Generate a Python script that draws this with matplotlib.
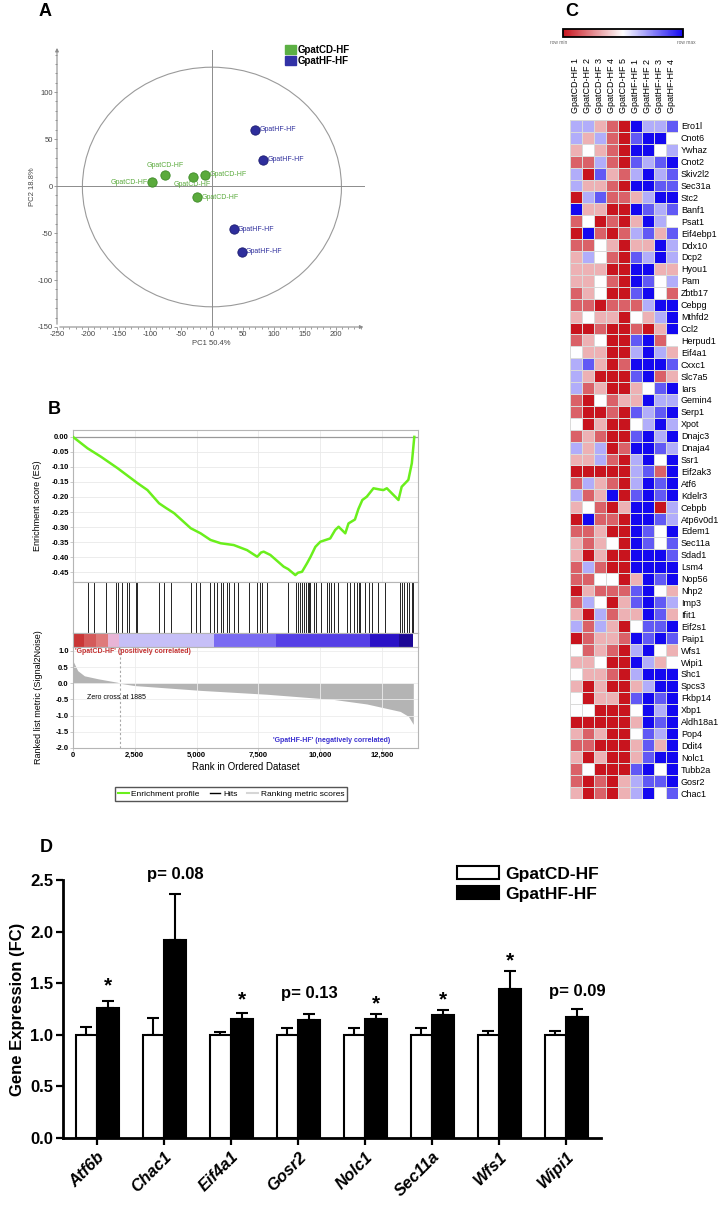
import numpy as np
import matplotlib
matplotlib.use("Agg")
import matplotlib.pyplot as plt
from matplotlib.patches import Ellipse, Patch
from matplotlib.lines import Line2D
from matplotlib.colors import LinearSegmentedColormap
from matplotlib.ticker import MultipleLocator, FormatStrFormatter
import matplotlib.colorbar as mcolorbar

plt.rcParams['font.family'] = ['Liberation Sans', 'DejaVu Sans']
plt.rcParams['axes.unicode_minus'] = False

# ---------------- data ----------------
# A: PCA scores
pca_cd_x = [-96, -75, -30, -11, -24]
pca_cd_y = [4, 12, 10, 12, -12]
pca_hf_x = [70, 83, 35, 48]
pca_hf_y = [60, 28, -46, -70]

# B: GSEA enrichment plot
es_rank = [0, 590, 1130, 1800, 2610, 3010, 3480, 3750, 4090, 4760, 5160, 5560, 5970,
           6500, 7040, 7450, 7600, 7710, 7980, 8520, 8700, 8990, 9100, 9260, 9460,
           9600, 9800, 10000, 10400, 10600, 10740, 11010, 11140, 11400, 11540, 11700,
           11880, 12150, 12400, 12550, 12690, 13160, 13290, 13560, 13700, 13800]
es_value = [0.0, -0.038, -0.066, -0.104, -0.154, -0.177, -0.221, -0.236, -0.254, -0.304,
            -0.321, -0.343, -0.354, -0.360, -0.377, -0.399, -0.385, -0.382, -0.393,
            -0.432, -0.440, -0.460, -0.452, -0.449, -0.421, -0.400, -0.366, -0.349,
            -0.338, -0.310, -0.299, -0.321, -0.288, -0.275, -0.240, -0.210, -0.199,
            -0.171, -0.175, -0.177, -0.171, -0.210, -0.166, -0.143, -0.088, 0.0]
hit_ranks = [618, 833, 1331, 1734, 1828, 1976, 2177, 2272, 2540, 2581, 3481, 3683, 3979,
             4785, 4960, 5134, 5537, 5699, 5806, 5968, 6075, 6210, 6304, 6505, 6667,
             7110, 7446, 7581, 7648, 7849, 8683, 9032, 9099, 9167, 9261, 9355, 9435,
             9489, 9530, 9597, 9731, 9839, 10027, 10269, 10336, 10444, 10538, 10699,
             11076, 11210, 11344, 11479, 11546, 11613, 11815, 11949, 12083, 12352,
             12621, 13226, 13293, 13387, 13495, 13602, 13696, 13763]
metric_rank = [0, 190, 460, 1000, 1800, 1885, 2470, 5160, 7850, 10540, 11880, 13230, 13560, 13760]
metric_value = [0.69, 0.39, 0.23, 0.14, 0.03, 0.0, -0.07, -0.22, -0.34, -0.50, -0.64, -0.87, -1.02, -1.27]
band_edges = [0, 460, 930, 1400, 1870, 5700, 8190, 12020, 13200, 13760]
band_colors = ['#c93636', '#d45a5a', '#df7a7a', '#e8b4d6', '#c6bff7', '#7a6bf2',
               '#5640e6', '#2a12c6', '#1c0896']

# C: heatmap (levels: -3 row min ... 3 row max)
hm_samples = ['GpatCD-HF 1', 'GpatCD-HF 2', 'GpatCD-HF 3', 'GpatCD-HF 4', 'GpatCD-HF 5',
              'GpatHF-HF 1', 'GpatHF-HF 2', 'GpatHF-HF 3', 'GpatHF-HF 4']
hm_genes = ['Ero1l', 'Cnot6', 'Ywhaz', 'Cnot2', 'Skiv2l2', 'Sec31a', 'Stc2', 'Banf1', 'Psat1',
            'Eif4ebp1', 'Ddx10', 'Dcp2', 'Hyou1', 'Pam', 'Zbtb17', 'Cebpg', 'Mthfd2', 'Ccl2',
            'Herpud1', 'Eif4a1', 'Cxxc1', 'Slc7a5', 'Iars', 'Gemin4', 'Serp1', 'Xpot',
            'Dnajc3', 'Dnaja4', 'Ssr1', 'Eif2ak3', 'Atf6', 'Kdelr3', 'Cebpb', 'Atp6v0d1',
            'Edem1', 'Sec11a', 'Sdad1', 'Lsm4', 'Nop56', 'Nhp2', 'Imp3', 'Ifit1', 'Eif2s1',
            'Paip1', 'Wfs1', 'Wipi1', 'Shc1', 'Spcs3', 'Fkbp14', 'Xbp1', 'Aldh18a1', 'Pop4',
            'Ddit4', 'Nolc1', 'Tubb2a', 'Gosr2', 'Chac1']
hm_values = [
    [1, 1, -1, -2, -3, 3, 1, 1, 2],
    [1, -1, 1, -2, -3, 2, 3, 3, 0],
    [-1, 0, -1, -2, -3, 3, 3, 0, 1],
    [-2, -2, 1, -2, -3, 2, 1, 2, 3],
    [1, -3, 2, -1, -2, 1, 3, 1, 2],
    [1, -1, -1, -2, -3, 3, 3, 2, 2],
    [-3, 1, 2, -2, -2, -1, 1, 3, 3],
    [3, -1, -1, -3, -3, 3, 2, 1, 2],
    [-2, 0, -3, -2, -3, -1, 3, 1, 0],
    [-3, 3, -2, -3, -2, 1, 2, -1, 2],
    [-2, -2, 0, -1, -3, -1, -1, 3, 1],
    [-1, 1, 0, -2, -3, 2, 1, 3, 1],
    [-1, -1, -1, -3, -3, 3, 3, -1, -1],
    [-1, -1, 0, -2, -3, 3, 2, 0, 1],
    [-2, -1, 0, -3, -3, 2, 3, 0, -2],
    [-2, -2, -3, -2, -2, -2, 1, 3, 3],
    [-1, 0, -1, -1, -3, 0, -1, 1, 3],
    [-3, -3, -2, -3, -3, -2, -3, -1, 3],
    [-2, -1, 0, -3, -3, 2, 3, -2, 0],
    [0, -1, -1, -3, -3, 1, 3, 1, -1],
    [1, 2, -1, -3, -2, 3, 3, 3, 2],
    [1, -1, -3, -3, -3, 2, 3, -2, -1],
    [1, -2, -1, -3, -3, -1, 0, 2, 3],
    [-2, -3, 0, -2, -1, -1, 3, 1, 1],
    [-2, -3, -3, -2, -3, 2, 1, 2, 3],
    [0, -3, -1, -3, -3, 0, 1, 3, 1],
    [-2, -1, -2, -3, -3, 2, 3, 1, 3],
    [1, -1, 1, -3, -2, 3, 3, 2, 1],
    [-1, -1, 1, -2, -3, 1, 3, 0, 3],
    [-3, -3, -3, -3, -3, 1, 2, -2, 3],
    [-2, 1, -1, -2, -3, 1, 3, 2, 3],
    [1, -2, -1, 3, -3, 2, 3, 2, 3],
    [-1, 0, -2, -3, -1, 3, 3, -3, 1],
    [-3, 3, -2, -2, -3, 3, 3, 2, 1],
    [-2, -2, -1, -3, -3, 3, 2, 0, 3],
    [-1, -2, -1, 0, -3, 3, 2, 0, 2],
    [-1, -3, -1, -3, -3, 3, 3, 3, 2],
    [-2, 1, -2, -3, -3, 3, 3, 3, 3],
    [-2, -2, 0, 0, -3, -1, 3, 2, 3],
    [-3, -1, -2, -2, -2, 2, 3, 0, -1],
    [-2, 1, 0, -3, -1, 2, 3, 2, 1],
    [-1, -3, 1, -2, -1, -1, 3, 2, -1],
    [1, -2, 1, -1, -3, 0, 2, 2, 3],
    [-3, -2, -1, -1, -2, 3, 2, 3, 2],
    [0, -2, -1, -2, -3, 1, 3, 0, -1],
    [-1, -1, 0, -3, -3, 3, 1, -1, 0],
    [0, -1, -1, -2, -3, 1, 3, 3, 3],
    [-1, -3, -1, -3, -3, -1, 1, 3, 3],
    [0, -3, -1, -1, -3, 2, 3, 2, 3],
    [0, 0, -3, -3, -3, 0, 3, 1, 3],
    [-3, -3, -3, -3, -3, -1, 3, 2, 3],
    [-1, -2, -1, -3, -3, 0, 2, 1, 3],
    [-2, -2, -3, -3, -3, -1, 2, -1, 3],
    [-1, -3, -1, -3, -3, -1, 2, 3, 3],
    [-2, 0, -3, -3, -3, 2, 3, 0, 3],
    [-2, -3, -2, -3, -1, 1, 2, 2, 3],
    [-1, -3, -2, -3, -1, 1, 3, 0, 2],
]

# D: qPCR fold change
d_genes = ['Atf6b', 'Chac1', 'Eif4a1', 'Gosr2', 'Nolc1', 'Sec11a', 'Wfs1', 'Wipi1']
cd_mean = [1.0, 1.0, 1.0, 1.0, 1.0, 1.0, 1.0, 1.0]
cd_err = [0.08, 0.16, 0.03, 0.07, 0.07, 0.07, 0.04, 0.04]
hf_mean = [1.26, 1.92, 1.15, 1.14, 1.15, 1.19, 1.44, 1.17]
hf_err = [0.07, 0.44, 0.06, 0.06, 0.05, 0.05, 0.18, 0.08]
sig_text = ['*', 'p= 0.08', '*', 'p= 0.13', '*', '*', '*', 'p= 0.09']
sig_y = [1.47, 2.55, 1.34, 1.40, 1.30, 1.34, 1.72, 1.42]

# ---------------- figure ----------------
W, H = 728, 1205


def box(l, t, r, b):
    return [l / W, 1 - b / H, (r - l) / W, (b - t) / H]


fig = plt.figure(figsize=(W / 100, H / 100), dpi=100)

for letter, (px, py) in zip('ABCD', [(45, 12), (54, 410), (572, 12), (46, 848)]):
    fig.text(px / W, 1 - py / H, letter, fontsize=13, fontweight='bold', ha='center', va='center')

# ---------- A: PCA ----------
green = '#5aaa3c'
blue = '#2e2e9c'
grey = '#8c8c8c'
axA = fig.add_axes(box(57, 47, 365, 327))
axA.set_xlim(-250, 247)
axA.set_ylim(-150, 148)
for s in axA.spines.values():
    s.set_visible(False)
arrow = dict(arrowstyle='-|>', color=grey, lw=0.8, mutation_scale=5)
axA.annotate('', xy=(-250, 150), xytext=(-250, -150), arrowprops=arrow, annotation_clip=False)
axA.annotate('', xy=(249, -150), xytext=(-250, -150), arrowprops=arrow, annotation_clip=False)
axA.plot([0, 0], [-150, 145], color=grey, lw=0.7)
axA.plot([-250, 245], [0, 0], color=grey, lw=0.7)
axA.add_patch(Ellipse((0, -1), 418, 255, fill=False, edgecolor='#9a9a9a', lw=0.8))
axA.set_xticks(np.arange(-250, 201, 50))
axA.set_yticks(np.arange(-150, 101, 50))
axA.xaxis.set_minor_locator(MultipleLocator(10))
axA.yaxis.set_minor_locator(MultipleLocator(10))
axA.tick_params(which='both', labelsize=5.5, labelcolor='#444', color=grey, length=2, width=0.6, pad=1)
axA.tick_params(which='minor', length=1.2)
axA.set_xlabel('PC1 50.4%', fontsize=5.5, color='#444', labelpad=1)
axA.set_ylabel('PC2 18.8%', fontsize=5.5, color='#444', labelpad=1)
axA.scatter(pca_cd_x, pca_cd_y, s=45, color=green, edgecolor='#3d8a28', lw=0.6, zorder=3)
axA.scatter(pca_hf_x, pca_hf_y, s=45, color=blue, edgecolor='#1c1c70', lw=0.6, zorder=3)
cd_lab = [(-8, 0, 'right', 'center'), (0, 6, 'center', 'bottom'), (-2, -5, 'center', 'top'),
          (7, 0, 'left', 'center'), (7, 0, 'left', 'center')]
for x, y, (dx, dy, ha, va) in zip(pca_cd_x, pca_cd_y, cd_lab):
    axA.text(x + dx, y + dy, 'GpatCD-HF', fontsize=5, color=green, ha=ha, va=va)
for x, y in zip(pca_hf_x, pca_hf_y):
    axA.text(x + 7, y, 'GpatHF-HF', fontsize=5, color=blue, ha='left', va='center')
axA.legend(handles=[Patch(color='#5cb044'), Patch(color='#3232a6')], labels=['GpatCD-HF', 'GpatHF-HF'],
           loc='upper left', bbox_to_anchor=(285 / W, 1 - 45 / H), bbox_transform=fig.transFigure,
           frameon=False, handlelength=1.1, handleheight=1.1, handletextpad=0.2, labelspacing=0.1,
           borderpad=0, borderaxespad=0, prop=dict(weight='bold', size=7))

# ---------- B: GSEA ----------
frame = '#b5b5b5'
xmax = 13950
axES = fig.add_axes(box(73, 430, 418, 582))
axES.plot(es_rank, es_value, color='#6aef1c', lw=1.8, zorder=3)
axES.axhline(0, color='#999999', lw=0.9)
axES.set_xlim(0, xmax)
axES.set_ylim(-0.483, 0.023)
axES.set_yticks(np.linspace(-0.45, 0, 10))
axES.yaxis.set_major_formatter(FormatStrFormatter('%.2f'))
axES.set_xticks(np.arange(0, 12501, 2500))
axES.tick_params(axis='x', length=0, labelbottom=False)
axES.tick_params(axis='y', labelsize=5.5, length=2, width=0.5, color=frame, pad=1)
for lab in axES.get_yticklabels():
    lab.set_fontweight('bold')
axES.grid(color='#e9e9e9', lw=0.6)
for s in axES.spines.values():
    s.set_color(frame)

axHit = fig.add_axes(box(73, 582, 418, 633))
axHit.vlines(hit_ranks, 0, 1, color='black', lw=0.6)
axHit.set_xlim(0, xmax)
axHit.set_ylim(0, 1)
axHit.set_xticks([])
axHit.set_yticks([])
for s in axHit.spines.values():
    s.set_color(frame)

axBand = fig.add_axes(box(73, 633, 418, 647))
for i, c in enumerate(band_colors):
    axBand.axvspan(band_edges[i], band_edges[i + 1], color=c, lw=0)
axBand.set_xlim(0, xmax)
axBand.set_xticks([])
axBand.set_yticks([])
for s in axBand.spines.values():
    s.set_color(frame)

axM = fig.add_axes(box(73, 647, 418, 748))
axM.fill_between(metric_rank, metric_value, 0, color='#b4b4b4', lw=0)
axM.axvline(1885, color='#a8a8a8', lw=0.8, ls=(0, (2, 2)))
axM.set_xlim(0, xmax)
axM.set_ylim(-2.0, 1.12)
axM.set_yticks(np.linspace(-2.0, 1.0, 7))
axM.yaxis.set_major_formatter(FormatStrFormatter('%.1f'))
axM.set_xticks(np.arange(0, 12501, 2500))
axM.set_xticklabels(['0', '2,500', '5,000', '7,500', '10,000', '12,500'])
axM.tick_params(labelsize=5.5, length=2, width=0.5, color=frame, pad=1)
for lab in axM.get_yticklabels() + axM.get_xticklabels():
    lab.set_fontweight('bold')
axM.grid(color='#ececec', lw=0.6)
for s in axM.spines.values():
    s.set_color(frame)
axM.text(80, 0.97, "'GpatCD-HF' (positively correlated)", fontsize=5, color='#c43030',
         fontweight='bold', va='center')
axM.text(560, -0.45, 'Zero cross at 1885', fontsize=5, va='center')
axM.text(12830, -1.76, "'GpatHF-HF' (negatively correlated)", fontsize=5, color='#3a30d0',
         fontweight='bold', ha='right', va='center')
axM.set_xlabel('Rank in Ordered Dataset', fontsize=7, labelpad=2)
fig.text(37 / W, 1 - 506 / H, 'Enrichment score (ES)', rotation=90, fontsize=6.5,
         ha='center', va='center')
fig.text(39 / W, 1 - 697 / H, 'Ranked list metric (Signal2Noise)', rotation=90, fontsize=6.5,
         ha='center', va='center')
fig.legend(handles=[Line2D([], [], color='#6aef1c', lw=1.5), Line2D([], [], color='black', lw=1),
                    Line2D([], [], color='#d6d6d6', lw=1.5)],
           labels=['Enrichment profile', 'Hits', 'Ranking metric scores'],
           loc='center', bbox_to_anchor=(231 / W, 1 - 794 / H), ncol=3, fontsize=6,
           frameon=True, fancybox=False, edgecolor='#555555', framealpha=1,
           handlelength=1.3, handletextpad=0.3, columnspacing=1.2, borderpad=0.35)

# ---------- C: heatmap ----------
hm_cmap = LinearSegmentedColormap.from_list('rowscale', ['#c8141e', '#ffffff', '#1408f0'])
axCb = fig.add_axes(box(563, 29, 683, 37))
cb = mcolorbar.ColorbarBase(axCb, cmap=hm_cmap, orientation='horizontal')
cb.set_ticks([])
cb.outline.set_linewidth(1.3)
fig.text(550 / W, 1 - 42 / H, 'row min', fontsize=3.5, color='#666666', va='center')
fig.text(696 / W, 1 - 42 / H, 'row max', fontsize=3.5, color='#666666', va='center', ha='right')

axHm = fig.add_axes(box(570, 120, 678, 799))
axHm.pcolormesh(np.array(hm_values), cmap=hm_cmap, vmin=-3, vmax=3,
                edgecolors='#dadada', linewidth=0.4)
axHm.set_xlim(0, len(hm_samples))
axHm.set_ylim(len(hm_genes), 0)
axHm.set_yticks(np.arange(len(hm_genes)) + 0.5)
axHm.set_yticklabels(hm_genes)
axHm.yaxis.tick_right()
axHm.set_xticks(np.arange(len(hm_samples)) + 0.5)
axHm.set_xticklabels(hm_samples, rotation=90)
axHm.xaxis.tick_top()
axHm.tick_params(axis='y', length=0, labelsize=6.5, pad=2)
axHm.tick_params(axis='x', length=0, labelsize=6.5, pad=5)
for s in axHm.spines.values():
    s.set_visible(False)

# ---------- D: bar chart ----------
axD = fig.add_axes(box(63, 880, 601, 1138))
xd = np.arange(len(d_genes))
bw = 0.32
zeros = [0] * len(d_genes)
axD.errorbar(xd - bw / 2, cd_mean, yerr=[zeros, cd_err], fmt='none', ecolor='black',
             elinewidth=1.5, capsize=4, capthick=1.5, zorder=1)
axD.errorbar(xd + bw / 2, hf_mean, yerr=[zeros, hf_err], fmt='none', ecolor='black',
             elinewidth=1.5, capsize=4, capthick=1.5, zorder=1)
axD.bar(xd - bw / 2, cd_mean, bw, color='white', edgecolor='black', lw=1.5, zorder=2)
axD.bar(xd + bw / 2, hf_mean, bw, color='black', edgecolor='black', lw=1.5, zorder=2)
for i, (t, y) in enumerate(zip(sig_text, sig_y)):
    fs = 15 if t == '*' else 12
    axD.text(xd[i] + bw / 2, y, t, fontsize=fs, fontweight='bold', ha='center', va='center')
axD.set_xlim(-0.51, 7.52)
axD.set_ylim(0, 2.5)
axD.set_yticks(np.linspace(0, 2.5, 6))
axD.yaxis.set_major_formatter(FormatStrFormatter('%.1f'))
axD.set_xticks(xd)
axD.set_xticklabels(d_genes, rotation=45, ha='right', rotation_mode='anchor',
                    fontstyle='italic', fontweight='bold', fontsize=12)
axD.tick_params(axis='y', labelsize=12, width=1.6, length=5, pad=2)
axD.tick_params(axis='x', width=1.6, length=5, pad=3)
for lab in axD.get_yticklabels():
    lab.set_fontweight('bold')
for side in ['top', 'right']:
    axD.spines[side].set_visible(False)
for side in ['left', 'bottom']:
    axD.spines[side].set_linewidth(2)
axD.set_ylabel('Gene Expression (FC)', fontsize=12, fontweight='bold', labelpad=4)
axD.legend(handles=[Patch(facecolor='white', edgecolor='black', lw=1.5),
                    Patch(facecolor='black', edgecolor='black', lw=1.5)],
           labels=['GpatCD-HF', 'GpatHF-HF'], loc='upper left',
           bbox_to_anchor=(457 / W, 1 - 866 / H), bbox_transform=fig.transFigure,
           frameon=False, handlelength=2.4, handleheight=0.8, handletextpad=0.4,
           labelspacing=0.25, borderpad=0, borderaxespad=0,
           prop=dict(weight='bold', size=12.5))

fig.savefig('out.png', dpi=100)
